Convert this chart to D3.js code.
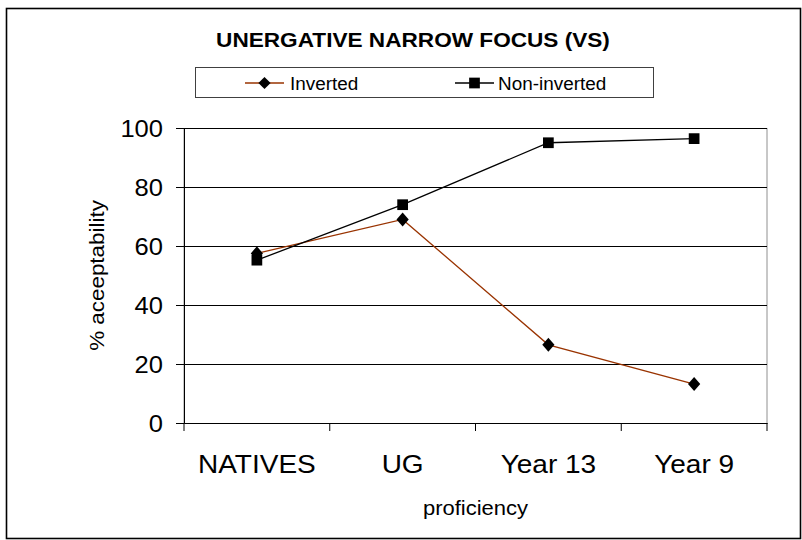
<!DOCTYPE html>
<html>
<head>
<meta charset="utf-8">
<script src="https://cdnjs.cloudflare.com/ajax/libs/d3/7.8.5/d3.min.js"></script>
<style>
  body { margin: 0; background: #fff; }
  text { font-family: "Liberation Sans", Arial, sans-serif; fill: #000; }
</style>
</head>
<body>
<div id="chart"></div>
<script>
// chart values
var categories = ["NATIVES", "UG", "Year 13", "Year 9"];
var inverted = [57.5, 69, 26.5, 13.2];
var nonInverted = [55.2, 74, 95, 96.4];
var yTicks = [0, 20, 40, 60, 80, 100];
var seriesNames = ["Inverted", "Non-inverted"];

var width = 802, height = 540;
var plotLeft = 184, plotRight = 767, plotTop = 128, plotBottom = 423;

var svg = d3.select("#chart").append("svg")
  .attr("width", width)
  .attr("height", height);

// the original text is a bit wider than Liberation Sans, stretch it
function stretch(sel, k){
  sel.each(function(){
    var w = this.getComputedTextLength();
    d3.select(this).attr("textLength", w * k).attr("lengthAdjust", "spacingAndGlyphs");
  });
}

// outer frame
svg.append("rect").attr("x", 6.5).attr("y", 8.5).attr("width", 794).attr("height", 530)
  .attr("fill", "#fff").attr("stroke", "#000").attr("stroke-width", 1.6);

var x = d3.scaleBand().domain(categories).range([plotLeft, plotRight]);
var y = d3.scaleLinear().domain([0, 100]).range([plotBottom, plotTop]);

// plot area border
svg.append("rect").attr("x", plotLeft).attr("y", plotTop + 0.5)
  .attr("width", plotRight - plotLeft).attr("height", plotBottom - plotTop)
  .attr("fill", "none").attr("stroke", "#909090");

// gridlines
svg.append("g").selectAll("line").data(yTicks.slice(1)).enter().append("line")
  .attr("x1", plotLeft).attr("x2", plotRight)
  .attr("y1", function(d){ return Math.round(y(d)) + 0.5; })
  .attr("y2", function(d){ return Math.round(y(d)) + 0.5; })
  .attr("stroke", "#000");

// y axis
var yAxis = svg.append("g").attr("transform", "translate(" + plotLeft + ",0)")
  .call(d3.axisLeft(y).tickValues(yTicks).tickSize(8).tickPadding(13));
yAxis.selectAll("text").style("font-size", "23px").attr("dy", "0.36em");
stretch(yAxis.selectAll("text"), 1.11);

// x axis
var xAxis = svg.append("g").attr("transform", "translate(0," + plotBottom + ")")
  .call(d3.axisBottom(x).tickSize(0).tickPadding(32));
xAxis.selectAll("text").style("font-size", "25px");
stretch(xAxis.selectAll("text"), 1.12);
// category separator ticks
xAxis.selectAll(".sep").data(d3.range(categories.length + 1)).enter().append("line")
  .attr("class", "sep")
  .attr("x1", function(i){ return plotLeft + i * x.step(); })
  .attr("x2", function(i){ return plotLeft + i * x.step(); })
  .attr("y1", 0).attr("y2", 8)
  .attr("stroke", "#000");
svg.selectAll(".domain").attr("stroke", "#000");

// axis titles
var xt = svg.append("text").attr("x", (plotLeft + plotRight) / 2).attr("y", 515)
  .attr("text-anchor", "middle").style("font-size", "20px").text("proficiency");
stretch(xt, 1.1);
var yt = svg.append("text").attr("transform", "translate(104," + ((plotTop + plotBottom) / 2) + ") rotate(-90)")
  .attr("text-anchor", "middle").style("font-size", "20px").text("% aceeptability");
stretch(yt, 1.12);

// title
var tt = svg.append("text").attr("x", 413).attr("y", 47)
  .attr("text-anchor", "middle").style("font-size", "20px").style("font-weight", "bold")
  .text("UNERGATIVE NARROW FOCUS (VS)");
stretch(tt, 1.13);

var cx = function(d, i){ return x(categories[i]) + x.bandwidth() / 2; };
var line = d3.line().x(function(d, i){ return cx(d, i); }).y(function(d){ return y(d); });

// series lines
svg.append("path").datum(inverted).attr("d", line)
  .attr("fill", "none").attr("stroke", "#993300").attr("stroke-width", 1.3);
svg.append("path").datum(nonInverted).attr("d", line)
  .attr("fill", "none").attr("stroke", "#000").attr("stroke-width", 1.3);

var diamond = d3.symbol().type(d3.symbolDiamond2).size(95);
var square = d3.symbol().type(d3.symbolSquare).size(115);

svg.append("g").selectAll("path").data(nonInverted).enter().append("path")
  .attr("d", square)
  .attr("transform", function(d, i){ return "translate(" + cx(d, i) + "," + y(d) + ")"; })
  .attr("fill", "#000");
svg.append("g").selectAll("path").data(inverted).enter().append("path")
  .attr("d", diamond)
  .attr("transform", function(d, i){ return "translate(" + cx(d, i) + "," + y(d) + ") scale(1,1.15)"; })
  .attr("fill", "#000");

// legend
var lg = svg.append("g");
lg.append("rect").attr("x", 195.5).attr("y", 67.5).attr("width", 458).attr("height", 30)
  .attr("fill", "#fff").attr("stroke", "#404040");
var items = [
  {name: seriesNames[0], color: "#993300", sym: diamond, x: 245, tx: 290},
  {name: seriesNames[1], color: "#000", sym: square, x: 455, tx: 498}
];
items.forEach(function(it){
  lg.append("line").attr("x1", it.x).attr("x2", it.x + 39).attr("y1", 83).attr("y2", 83)
    .attr("stroke", it.color).attr("stroke-width", 1.3);
  lg.append("path").attr("d", it.sym).attr("transform", "translate(" + (it.x + 19.5) + ",83)").attr("fill", "#000");
  var t = lg.append("text").attr("x", it.tx).attr("y", 90).style("font-size", "18px").text(it.name);
  stretch(t, 1.05);
});
</script>
</body>
</html>
